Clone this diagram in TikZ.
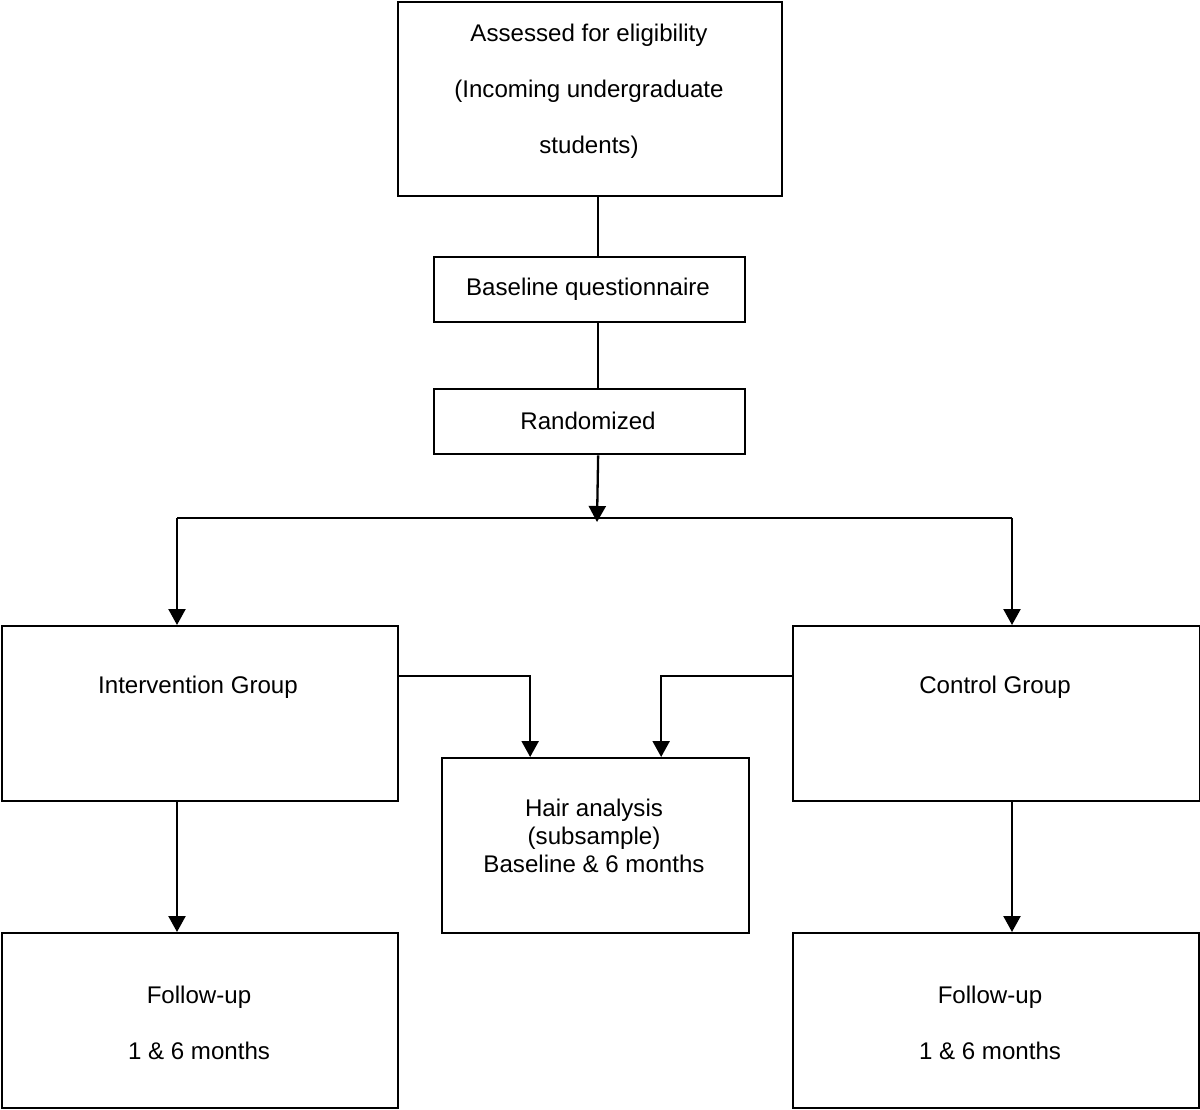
\documentclass[tikz,border=0pt]{standalone}
\usepackage{fontspec}
\setmainfont{Liberation Sans}
\usetikzlibrary{arrows.meta}
\begin{document}
\begin{tikzpicture}[x=1pt,y=-1pt,
  box/.style={draw=black,line width=2.3pt,minimum width=#1,inner sep=0pt,anchor=north west},
  txt/.style={font=\fontsize{24.1}{56}\selectfont,align=center,inner sep=0pt},
  txtb/.style={font=\fontsize{24.1}{28}\selectfont,align=center,inner sep=0pt},
  conn/.style={line width=2.3pt},
  arr/.style={line width=2.3pt,-{Triangle[length=16pt,width=17pt]}}]
\useasboundingbox (0,0) rectangle (1200,1109);
% boxes
\node[box=384pt,minimum height=194pt] (top) at (397,1) {};
\node[box=311pt,minimum height=65pt] (bq) at (433,256) {};
\node[box=311pt,minimum height=65pt] (rand) at (433,388) {};
\node[box=396pt,minimum height=175pt] (int) at (1,625) {};
\node[box=407pt,minimum height=175pt] (ctl) at (792,625) {};
\node[box=307pt,minimum height=175pt] (hair) at (441,757) {};
\node[box=396pt,minimum height=175pt] (fu1) at (1,932) {};
\node[box=406pt,minimum height=175pt] (fu2) at (792,932) {};
% texts
\node[txt] (ttop) at (589,91) {Assessed for eligibility\\(Incoming undergraduate\\students)};
\node[txt] (tbq) at (588,289) {Baseline questionnaire};
\node[txt] (trand) at (588,421) {Randomized};
\node[txt] (tint) at (198,687) {Intervention Group};
\node[txt] (tctl) at (995,687) {Control Group};
\node[txtb] (thair) at (594,836) {Hair analysis\\(subsample)\\Baseline \& 6 months};
\node[txt] (tfu1) at (199,1023) {Follow-up\\1 \& 6 months};
\node[txt] (tfu2) at (990,1023) {Follow-up\\1 \& 6 months};
% connectors
\coordinate (split) at (597,522);
\coordinate (sl) at (177,518);
\coordinate (sr) at (1012,518);
\draw[conn] ([xshift=8pt]top.south) -- ([xshift=8.5pt]bq.north);
\draw[conn] ([xshift=8.5pt]bq.south) -- ([xshift=8.5pt]rand.north);
\draw[arr] ([xshift=8.5pt]rand.south) -- (split);
\draw[conn] (sl) -- (sr);
\draw[arr] (sl) -- (int.north -| sl);
\draw[arr] (sr) -- (ctl.north -| sr);
\draw[arr] ([yshift=37.5pt]int.east) -| ([xshift=-65.5pt]hair.north);
\draw[arr] ([yshift=37.5pt]ctl.west) -| ([xshift=65.5pt]hair.north);
\draw[arr] (int.south -| sl) -- (fu1.north -| sl);
\draw[arr] (ctl.south -| sr) -- (fu2.north -| sr);
\end{tikzpicture}
\end{document}
